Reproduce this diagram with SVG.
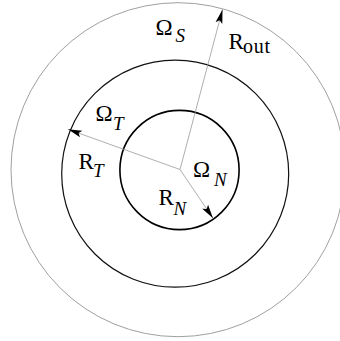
<svg xmlns="http://www.w3.org/2000/svg" width="340" height="341" viewBox="0 0 340 341">
<style>
.main{font-family:"Liberation Serif",serif;font-size:23px;fill:#000}
.sub{font-family:"Liberation Serif",serif;font-size:19px;font-style:italic;fill:#000}
.subr{font-family:"Liberation Serif",serif;font-size:20px;fill:#000}
.ray{stroke:#9a9a9a;stroke-width:0.8;fill:none;marker-end:url(#ah)}
</style>
<defs>
<marker id="ah" markerUnits="userSpaceOnUse" markerWidth="16" markerHeight="9" refX="14" refY="4.5" orient="auto">
<path d="M0,1 L14,4.5 L0,8 L2.8,4.5 z" fill="#000"/>
</marker>
</defs>
<rect width="340" height="341" fill="#fff"/>
<g id="outer"><circle cx="178" cy="169.7" r="167" fill="none" stroke="#a0a0a0" stroke-width="1"/></g>
<g id="middle"><circle cx="175.2" cy="173.7" r="113.5" fill="none" stroke="#111" stroke-width="1.2"/></g>
<g id="inner"><circle cx="179.5" cy="170" r="59.6" fill="none" stroke="#000" stroke-width="1.6"/></g>
<g id="connectors">
<line class="ray" x1="180" y1="169.5" x2="222.5" y2="9.5"/>
<line class="ray" x1="180" y1="169.5" x2="68" y2="129.3"/>
<line class="ray" x1="180" y1="169.5" x2="213" y2="218.3"/>
</g>
<g id="label-omega-s"><text class="main" x="155.5" y="34.5" textLength="18">Ω</text><text class="sub" x="175.5" y="41.5">S</text></g>
<g id="label-rout"><text class="main" x="228.5" y="48.5">R</text><text class="subr" x="243" y="53" textLength="27">out</text></g>
<g id="label-omega-t"><text class="main" x="95.5" y="120.5" textLength="19">Ω</text><text class="sub" x="113" y="129.5">T</text></g>
<g id="label-rt"><text class="main" x="78.5" y="168.5">R</text><text class="sub" x="93" y="177">T</text></g>
<g id="label-omega-n"><text class="main" x="193" y="177" textLength="19">Ω</text><text class="sub" x="214" y="185.5">N</text></g>
<g id="label-rn"><text class="main" x="158.5" y="204.5">R</text><text class="sub" x="173.5" y="214.5">N</text></g>
</svg>
